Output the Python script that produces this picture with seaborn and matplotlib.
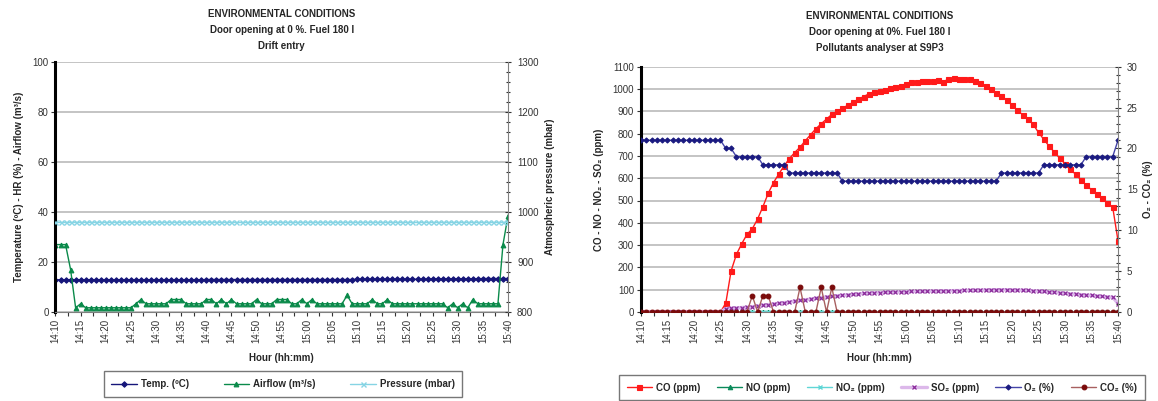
import matplotlib
matplotlib.use("Agg")
import matplotlib.pyplot as plt
import seaborn as sns
import pandas as pd
from matplotlib.ticker import MultipleLocator

sns.set_style("white")
plt.rcParams['font.family'] = ['Liberation Sans', 'DejaVu Sans']

# one reading per minute, 14:10 .. 15:40
minute = list(range(91))
hour_labels = ["14:10", "14:15", "14:20", "14:25", "14:30", "14:35", "14:40",
               "14:45", "14:50", "14:55", "15:00", "15:05", "15:10", "15:15",
               "15:20", "15:25", "15:30", "15:35", "15:40"]

# --- drift entry ---
temp_c = [12.9, 12.9, 12.9, 12.9, 12.9, 12.9, 12.9, 12.9, 12.9, 12.9,
          12.9, 12.9, 12.9, 12.9, 12.9, 12.9, 12.9, 12.9, 12.9, 12.9,
          12.9, 12.9, 12.9, 12.9, 12.9, 12.9, 12.9, 12.9, 12.9, 12.9,
          13.0, 13.0, 13.0, 13.0, 13.0, 13.0, 13.0, 13.0, 13.0, 13.0,
          13.0, 13.0, 13.0, 13.0, 13.0, 13.0, 13.0, 13.0, 13.0, 13.0,
          13.0, 13.0, 13.0, 13.0, 13.0, 13.0, 13.0, 13.0, 13.0, 13.0,
          13.1, 13.1, 13.1, 13.1, 13.1, 13.1, 13.1, 13.1, 13.1, 13.1,
          13.1, 13.1, 13.1, 13.1, 13.1, 13.3, 13.3, 13.3, 13.3, 13.3,
          13.3, 13.3, 13.3, 13.3, 13.3, 13.4, 13.4, 13.4, 13.4, 13.4,
          13.4]
airflow = [27, 27, 27, 17, 1.7, 3.3, 1.7, 1.7, 1.7, 1.7,
           1.7, 1.7, 1.7, 1.7, 1.7, 1.7, 3.3, 5, 3.3, 3.3,
           3.3, 3.3, 3.3, 5, 5, 5, 3.3, 3.3, 3.3, 3.3,
           5, 5, 3.3, 5, 3.3, 5, 3.3, 3.3, 3.3, 3.3,
           5, 3.3, 3.3, 3.3, 5, 5, 5, 3.3, 3.3, 5,
           3.3, 5, 3.3, 3.3, 3.3, 3.3, 3.3, 3.3, 6.7, 3.3,
           3.3, 3.3, 3.3, 5, 3.3, 3.3, 5, 3.3, 3.3, 3.3,
           3.3, 3.3, 3.3, 3.3, 3.3, 3.3, 3.3, 3.3, 1.7, 3.3,
           1.7, 3.3, 1.7, 5, 3.3, 3.3, 3.3, 3.3, 3.3, 27,
           38.5]
pressure = [980, 980, 980, 980, 980, 980, 980, 980, 980, 980,
            980, 980, 980, 980, 980, 980, 980, 980, 980, 980,
            980, 980, 980, 980, 980, 980, 980, 980, 980, 980,
            980, 980, 980, 980, 980, 980, 980, 980, 980, 980,
            980, 980, 980, 980, 980, 980, 980, 980, 980, 980,
            980, 980, 980, 980, 980, 980, 980, 980, 980, 980,
            980, 980, 980, 980, 980, 980, 980, 980, 980, 980,
            980, 980, 980, 980, 980, 980, 980, 980, 980, 980,
            980, 980, 980, 980, 980, 980, 980, 980, 980, 980,
            980]

# --- pollutants analyser S9P3 ---
co_ppm = [0, 0, 0, 0, 0, 0, 0, 0, 0, 0,
          0, 0, 0, 0, 0, 0, 40, 184, 258, 306,
          348, 373, 417, 472, 532, 580, 619, 655, 688, 715,
          739, 768, 795, 822, 844, 865, 886, 900, 913, 927,
          940, 954, 966, 978, 985, 991, 997, 1003, 1009, 1015,
          1022, 1031, 1033, 1034, 1036, 1036, 1039, 1031, 1045, 1048,
          1043, 1045, 1043, 1036, 1027, 1015, 1000, 983, 968, 951,
          927, 904, 885, 865, 841, 805, 774, 744, 716, 690,
          665, 641, 617, 593, 569, 548, 528, 509, 489, 470,
          320]
no_ppm = [0, 0, 0, 0, 0, 0, 0, 0, 0, 0,
          0, 0, 0, 0, 0, 0, 0, 0, 0, 0,
          0, 0, 0, 0, 0, 0, 0, 0, 0, 0,
          0, 0, 0, 0, 0, 0, 0, 0, 0, 0,
          0, 0, 0, 0, 0, 0, 0, 0, 0, 0,
          0, 0, 0, 0, 0, 0, 0, 0, 0, 0,
          0, 0, 0, 0, 0, 0, 0, 0, 0, 0,
          0, 0, 0, 0, 0, 0, 0, 0, 0, 0,
          0, 0, 0, 0, 0, 0, 0, 0, 0, 0,
          0]
no2_ppm = [0, 0, 0, 0, 0, 0, 0, 0, 0, 0,
           0, 0, 0, 0, 0, 0, 0, 0, 0, 0,
           0, 0, 0, 0, 0, 0, 0, 0, 0, 0,
           0, 0, 0, 0, 0, 0, 0, 0, 0, 0,
           0, 0, 0, 0, 0, 0, 0, 0, 0, 0,
           0, 0, 0, 0, 0, 0, 0, 0, 0, 0,
           0, 0, 0, 0, 0, 0, 0, 0, 0, 0,
           0, 0, 0, 0, 0, 0, 0, 0, 0, 0,
           0, 0, 0, 0, 0, 0, 0, 0, 0, 0,
           0]
so2_ppm = [0, 0, 0, 0, 0, 0, 0, 0, 0, 0,
           0, 0, 0, 0, 0, 0, 15, 17, 18, 20,
           22, 24, 27, 30, 33, 36, 39, 42, 45, 49,
           52, 55, 58, 62, 65, 68, 70, 73, 75, 77,
           79, 81, 83, 84, 86, 87, 88, 89, 90, 90,
           91, 92, 92, 93, 93, 94, 94, 95, 95, 96,
           96, 97, 97, 98, 98, 99, 99, 100, 100, 100,
           99, 99, 98, 97, 95, 94, 92, 90, 88, 86,
           84, 82, 80, 78, 76, 74, 72, 70, 68, 66,
           38]
o2_pct = [21, 21, 21, 21, 21, 21, 21, 21, 21, 21,
          21, 21, 21, 21, 21, 21, 20, 20, 19, 19,
          19, 19, 19, 18, 18, 18, 18, 18, 17, 17,
          17, 17, 17, 17, 17, 17, 17, 17, 16, 16,
          16, 16, 16, 16, 16, 16, 16, 16, 16, 16,
          16, 16, 16, 16, 16, 16, 16, 16, 16, 16,
          16, 16, 16, 16, 16, 16, 16, 16, 17, 17,
          17, 17, 17, 17, 17, 17, 18, 18, 18, 18,
          18, 18, 18, 18, 19, 19, 19, 19, 19, 19,
          21]
co2_pct = [0, 0, 0, 0, 0, 0, 0, 0, 0, 0,
           0, 0, 0, 0, 0, 0, 0, 0, 0, 0,
           0, 2, 0, 2, 2, 0, 0, 0, 0, 0,
           3, 0, 0, 0, 3, 0, 3, 0, 0, 0,
           0, 0, 0, 0, 0, 0, 0, 0, 0, 0,
           0, 0, 0, 0, 0, 0, 0, 0, 0, 0,
           0, 0, 0, 0, 0, 0, 0, 0, 0, 0,
           0, 0, 0, 0, 0, 0, 0, 0, 0, 0,
           0, 0, 0, 0, 0, 0, 0, 0, 0, 0,
           0]

drift = pd.DataFrame({"minute": minute, "temp": temp_c, "airflow": airflow, "pressure": pressure})
poll = pd.DataFrame({"minute": minute, "co": co_ppm, "no": no_ppm, "no2": no2_ppm,
                     "so2": so2_ppm, "o2": o2_pct, "co2": co2_pct})

W, H = 1158, 401
fig = plt.figure(figsize=(W / 100, H / 100), dpi=100)
ax1 = fig.add_axes([55.5 / W, 1 - 312 / H, (508 - 55.5) / W, (312 - 62.3) / H])
ax2 = fig.add_axes([641 / W, 1 - 312 / H, (1118 - 641) / W, (312 - 66.7) / H])

grid_col = "#b4b4b4"
fs = 7


def line(ax, df, col, color, marker, label, ms=3.2, lw=1.0, linecolor=None, mew=0.8):
    sns.lineplot(data=df, x="minute", y=col, ax=ax, color=linecolor or color,
                 marker=marker, markersize=ms, markerfacecolor=color,
                 markeredgecolor=color, markeredgewidth=mew, linewidth=lw,
                 label=label, legend=False)


def style_axes(ax, axr, ymax, ystep, rmin, rmax, rmaj, rmin_step, ylabel, rlabel, rpad):
    ax.set_xlim(0, 90)
    ax.set_ylim(0, ymax)
    ax.set_yticks(range(0, ymax + 1, ystep))
    ax.yaxis.grid(True, color=grid_col, linewidth=1.1)
    ax.set_axisbelow(True)
    ax.set_xticks(range(0, 91, 5))
    ax.set_xticklabels(hour_labels, rotation=90)
    ax.xaxis.set_minor_locator(MultipleLocator(2.5))
    ax.tick_params(axis="both", which="both", labelsize=fs, colors="#333333",
                   length=3, width=0.8, direction="out", pad=2)
    ax.tick_params(axis="x", which="both", bottom=True)
    ax.tick_params(axis="y", left=True)
    for s in ["top", "right"]:
        ax.spines[s].set_visible(False)
    ax.spines["bottom"].set_color("#808080")
    ax.spines["left"].set_color("black")
    ax.spines["left"].set_linewidth(2.2)
    ax.set_xlabel("Hour (hh:mm)", fontsize=fs, fontweight="bold", labelpad=7)
    ax.set_ylabel(ylabel, fontsize=fs, fontweight="bold", labelpad=6)

    axr.set_ylim(rmin, rmax)
    axr.yaxis.set_major_locator(MultipleLocator(rmaj))
    axr.yaxis.set_minor_locator(MultipleLocator(rmin_step))
    axr.tick_params(axis="y", which="both", labelsize=fs, colors="#333333",
                    direction="inout", width=0.8, right=True, pad=4)
    axr.tick_params(axis="y", which="major", length=5)
    axr.tick_params(axis="y", which="minor", length=3)
    for s in ["top", "left", "bottom"]:
        axr.spines[s].set_visible(False)
    axr.spines["right"].set_color("#808080")
    axr.set_ylabel(rlabel, fontsize=fs, fontweight="bold", labelpad=rpad, rotation=90)


# ---------------- left chart ----------------
ax1r = ax1.twinx()
line(ax1, drift, "temp", "#16167a", "D", "Temp. (ºC)", ms=2.8)
line(ax1, drift, "airflow", "#0a8a4a", "^", "Airflow (m³/s)", ms=3.4)
line(ax1r, drift, "pressure", "#86d4e4", "x", "Pressure (mbar)", ms=3.6, mew=1.0)
style_axes(ax1, ax1r, 100, 20, 800, 1300, 100, 20,
           "Temperature (ºC) - HR (%) - Airflow (m³/s)", "Atmospheric pressure (mbar)", 5)

fig.text((55.5 + 508) / 2 / W, 1 - 9 / H,
         "ENVIRONMENTAL CONDITIONS\nDoor opening at 0 %. Fuel 180 l\nDrift entry",
         ha="center", va="top", fontsize=fs, fontweight="bold", linespacing=1.75)

h1, l1 = ax1.get_legend_handles_labels()
h2, l2 = ax1r.get_legend_handles_labels()
leg1 = fig.legend(h1 + h2, l1 + l2, loc="center", bbox_to_anchor=(283 / W, 1 - 384 / H),
                  ncol=3, frameon=True, fancybox=False, edgecolor="#555555",
                  columnspacing=3.6, handlelength=2.6, borderpad=0.8, handletextpad=0.4,
                  prop={"weight": "bold", "size": fs})
leg1.get_frame().set_linewidth(1.0)

# ---------------- right chart ----------------
ax2r = ax2.twinx()
line(ax2, poll, "co", "#ff1a1a", "s", "CO (ppm)", ms=3.6)
line(ax2, poll, "no", "#0a8a5a", "^", "NO (ppm)", ms=3.2)
line(ax2, poll, "no2", "#5fd6d6", "x", "NO₂ (ppm)", ms=3.4, mew=1.0)
line(ax2, poll, "so2", "#8a2a9a", "x", "SO₂ (ppm)", ms=2.6, lw=2.4, linecolor="#dcb8ea", mew=0.9)
line(ax2r, poll, "o2", "#1a1a80", "D", "O₂ (%)", ms=2.6, linecolor="#4444a8")
line(ax2r, poll, "co2", "#7a0a0a", "o", "CO₂ (%)", ms=3.4, linecolor="#a86060")
style_axes(ax2, ax2r, 1100, 100, 0, 30, 5, 1,
           "CO - NO - NO₂ - SO₂ (ppm)", "O₂ - CO₂ (%)", 4)

fig.text((641 + 1118) / 2 / W, 1 - 11 / H,
         "ENVIRONMENTAL CONDITIONS\nDoor opening at 0%. Fuel 180 l\nPollutants analyser at S9P3",
         ha="center", va="top", fontsize=fs, fontweight="bold", linespacing=1.75)

h1, l1 = ax2.get_legend_handles_labels()
h2, l2 = ax2r.get_legend_handles_labels()
leg2 = fig.legend(h1 + h2, l1 + l2, loc="upper center", bbox_to_anchor=(882 / W, 1 - 370 / H),
                  ncol=6, frameon=True, fancybox=False, edgecolor="#555555",
                  columnspacing=1.7, handlelength=2.6, borderpad=0.8, handletextpad=0.4,
                  prop={"weight": "bold", "size": fs})
leg2.get_frame().set_linewidth(1.0)

fig.savefig("out.png", dpi=100)
